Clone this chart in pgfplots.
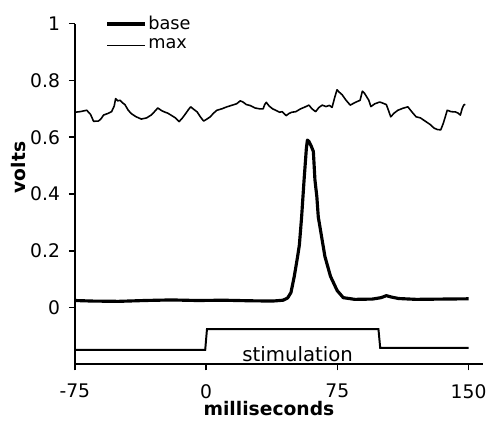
\documentclass[border=0pt]{standalone}
\usepackage{fontspec}
\setmainfont{DejaVu Sans}
\usepackage{pgfplots}
\pgfplotsset{compat=1.18}
\begin{document}
\begin{tikzpicture}
\begin{axis}[name=ax, scale only axis, width=207pt, height=173pt,
  xmin=-75, xmax=158, ymin=-0.2, ymax=1,
  axis x line=bottom, axis y line=left,
  axis line style={line width=1pt,-},
  xtick={-75,0,75,150}, xticklabels={-75,0,75,150},
  ytick={0,0.2,0.4,0.6,0.8,1}, yticklabels={0,0.2,0.4,0.6,0.8,1},
  tick align=outside, major tick length=3pt,
  tick style={line width=0.8pt,black},
  ticklabel style={font=\fontsize{9.5}{10}\selectfont},
  xticklabel style={yshift=-3.5pt},
  yticklabel style={xshift=-1pt},
  xlabel={milliseconds}, ylabel={volts},
  label style={font=\fontsize{9.5}{10}\selectfont\bfseries},
  xlabel style={at={(axis description cs:0.476,-0.13)}, anchor=center},
  ylabel style={at={(axis description cs:-0.138,0.578)}, anchor=center},
  legend style={at={(axis description cs:0.075,1.03)}, anchor=north west,
    draw=none, fill=none, font=\fontsize{9}{10}\selectfont,
    row sep=1.4pt, inner sep=0pt, nodes={inner sep=1pt}},
  legend cell align=left,
  legend image code/.code={\draw[#1] (0pt,0pt) -- (19pt,0pt);},
  clip=false,
]
\addplot[black, line width=1.6pt, line join=round] coordinates {
(-75,0.025)(-65,0.023)(-50,0.022)(-35,0.025)(-20,0.027)(-5,0.025)(10,0.026)
(25,0.024)(38,0.023)(44,0.026)(46.6,0.034)(48.5,0.053)(50.4,0.11)(52.3,0.18)
(53.3,0.22)(54.6,0.32)(56,0.45)(57.3,0.56)(57.9,0.59)(58.8,0.585)(60,0.57)
(61.3,0.55)(62.2,0.45)(63.3,0.39)(64.1,0.32)(66,0.25)(67.9,0.18)(71.1,0.11)
(74.9,0.06)(78.4,0.035)(85,0.029)(95,0.03)(100,0.035)(103,0.042)(106,0.037)
(110,0.032)(120,0.029)(135,0.03)(150,0.031)
};
\addlegendentry{base}
\addplot[black, line width=0.8pt, line join=round] coordinates {
(-75,0.688)(-72,0.690)(-68.2,0.695)(-66,0.68)(-64.3,0.656)(-61.5,0.657)
(-60,0.665)(-58.6,0.678)(-56,0.684)(-54,0.69)(-52.5,0.71)(-51.7,0.736)
(-50.5,0.728)(-49.2,0.73)(-47.5,0.72)(-46.4,0.715)(-44.5,0.695)(-42.7,0.683)
(-40,0.672)(-37,0.664)(-34,0.668)(-31.4,0.678)(-29.5,0.69)(-27.6,0.703)
(-25.5,0.694)(-23.8,0.689)(-22,0.685)(-20.1,0.678)(-17.5,0.668)(-15.4,0.655)
(-13.5,0.668)(-11.7,0.683)(-10,0.698)(-8.8,0.707)(-7,0.698)(-5.1,0.689)
(-3.3,0.672)(-1.4,0.657)(0.5,0.664)(2.4,0.672)(4.3,0.685)(6.2,0.695)
(9,0.700)(11.9,0.707)(14.5,0.712)(17.5,0.718)(19.5,0.728)(21.1,0.724)
(23,0.715)(25,0.712)(28,0.703)(30.5,0.700)(32.6,0.70)(33.5,0.715)(34.4,0.723)
(36,0.71)(38,0.70)(40.1,0.694)(42,0.688)(43.5,0.69)(45.7,0.676)(47.5,0.684)
(49,0.688)(51.3,0.690)(54,0.700)(56,0.705)(58.8,0.713)(60.5,0.70)(62.6,0.690)
(64.5,0.705)(66.4,0.713)(68.5,0.708)(70.5,0.712)(72,0.705)(73.5,0.74)
(74.8,0.767)(76.2,0.758)(77.7,0.750)(80,0.73)(82.4,0.713)(85,0.722)(88,0.730)
(89.3,0.762)(90.5,0.755)(91.8,0.742)(93,0.73)(94.2,0.708)(96.5,0.718)
(99.3,0.724)(101,0.72)(103,0.715)(104.2,0.695)(105.5,0.672)(107.5,0.685)
(109.6,0.695)(112.5,0.702)(115.3,0.707)(117.5,0.69)(120,0.672)(122.5,0.668)
(125.6,0.655)(128,0.645)(130.3,0.632)(132.2,0.627)(134.1,0.626)(135.5,0.648)
(136.7,0.672)(137.8,0.695)(140,0.690)(142.5,0.689)(144,0.685)(145.3,0.678)
(146.3,0.70)(147.2,0.713)(148.1,0.716)
};
\addlegendentry{max}
\addplot[black, line width=1pt, forget plot] coordinates {
(-75,-0.149)(-0.5,-0.149)(0.5,-0.076)(98.5,-0.076)(99.5,-0.142)(150,-0.142)
};
\node[anchor=base, font=\fontsize{10}{11}\selectfont] at (axis cs:52.3,-0.19) {stimulation};
\end{axis}
\path ([xshift=-38pt,yshift=-28.5pt]ax.south west) rectangle ([xshift=1.5pt,yshift=12pt]ax.north east);
\end{tikzpicture}
\end{document}
